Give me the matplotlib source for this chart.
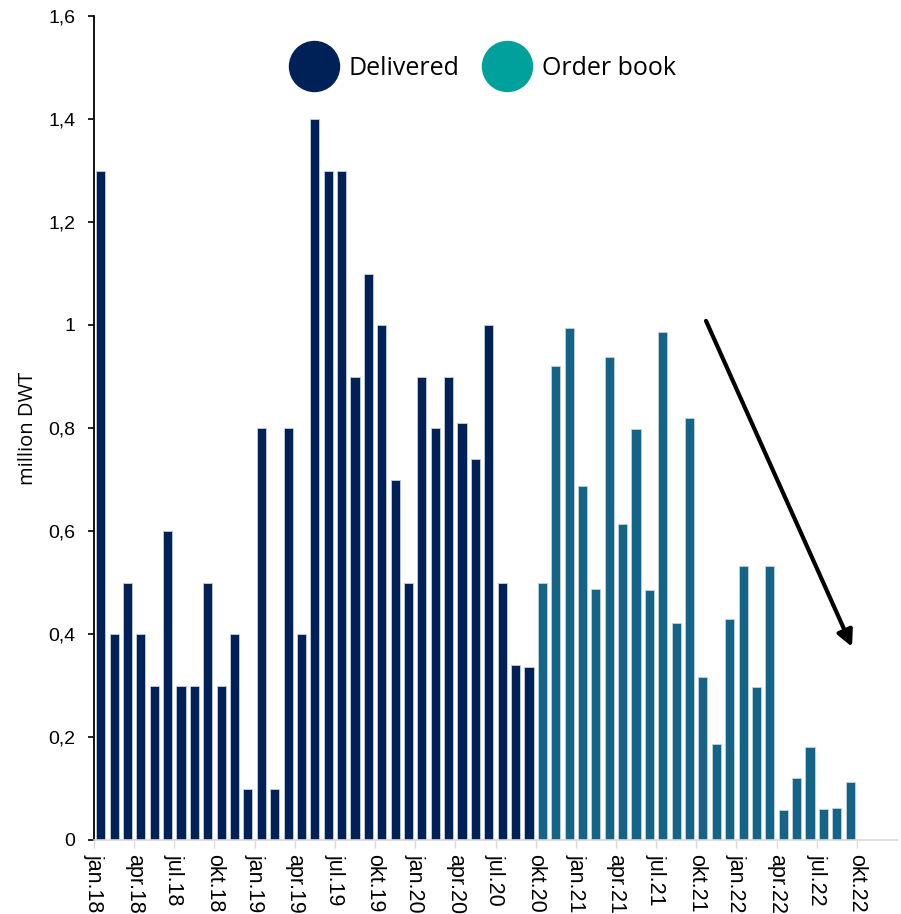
import matplotlib
matplotlib.use("Agg")
import matplotlib.pyplot as plt
import matplotlib.transforms as mtransforms
from matplotlib.lines import Line2D
from matplotlib.ticker import FuncFormatter, MultipleLocator

# Monthly deliveries, jan.18 - sep.20 (million DWT)
delivered = [1.3, 0.4, 0.5, 0.4, 0.3, 0.6, 0.3, 0.3, 0.5, 0.3, 0.4, 0.1,
             0.8, 0.1, 0.8, 0.4, 1.4, 1.3, 1.3, 0.9, 1.1, 1.0, 0.7, 0.5,
             0.9, 0.8, 0.9, 0.81, 0.74, 1.0, 0.5, 0.34, 0.335]

# Scheduled deliveries in the order book, okt.20 - sep.22 (million DWT)
order_book = [0.5, 0.921, 0.995, 0.688, 0.488, 0.937, 0.613, 0.798,
              0.485, 0.986, 0.421, 0.819, 0.316, 0.186, 0.429, 0.533,
              0.298, 0.532, 0.059, 0.120, 0.180, 0.061, 0.063, 0.113]

tick_labels = ["jan.18", "apr.18", "jul.18", "okt.18",
               "jan.19", "apr.19", "jul.19", "okt.19",
               "jan.20", "apr.20", "jul.20", "okt.20",
               "jan.21", "apr.21", "jul.21", "okt.21",
               "jan.22", "apr.22", "jul.22", "okt.22"]

series_names = ["Delivered", "Order book"]

NAVY = "#002157"
BAR_TEAL = "#136486"
LEGEND_TEAL = "#00A19C"
EDGE = "#c5cfdc"

plt.rcParams["font.family"] = ["Liberation Sans", "DejaVu Sans"]

fig = plt.figure(figsize=(9.01, 9.14), dpi=100)
ax = fig.add_axes([94 / 901, 1 - 840 / 914, 803 / 901, 824 / 914])

n_del = len(delivered)
x_del = [i + 0.5 for i in range(n_del)]
x_ord = [n_del + i + 0.5 for i in range(len(order_book))]

bar_w = 0.68
ax.bar(x_del, delivered, width=bar_w, color=NAVY, edgecolor=EDGE, linewidth=0.6)
ax.bar(x_ord, order_book, width=bar_w, color=BAR_TEAL, edgecolor=EDGE, linewidth=0.6)

# Axes limits and ticks
ax.set_xlim(0, 60)
ax.set_ylim(0, 1.6)
ax.yaxis.set_major_locator(MultipleLocator(0.2))
ax.yaxis.set_major_formatter(FuncFormatter(lambda v, p: f"{v:.1f}".rstrip("0").rstrip(".").replace(".", ",")))
ax.set_xticks([3 * i for i in range(len(tick_labels))])
ax.set_xticklabels(tick_labels, rotation=-90, ha="center", va="top")

offset = mtransforms.ScaledTranslation(3 / 100, 0, fig.dpi_scale_trans)
for lbl in ax.get_xticklabels():
    lbl.set_transform(lbl.get_transform() + offset)

ax.tick_params(axis="y", direction="out", length=4.5, width=1.2, color="black",
               labelsize=14, pad=9, colors="black")
ax.tick_params(axis="x", direction="out", length=6, width=1.0, color="#d9d9d9",
               labelsize=15.5, pad=4, labelcolor="black")

for side in ("top", "right"):
    ax.spines[side].set_visible(False)
ax.spines["left"].set_color("black")
ax.spines["left"].set_linewidth(1.3)
ax.spines["bottom"].set_color("#d9d9d9")
ax.spines["bottom"].set_linewidth(1.2)

ax.set_ylabel("million DWT", fontsize=14.5, labelpad=7,
              family=["Open Sans", "DejaVu Sans"])

# Legend with large round markers
handles = [
    Line2D([], [], linestyle="none", marker="o", markersize=36,
           markerfacecolor=NAVY, markeredgecolor=NAVY),
    Line2D([], [], linestyle="none", marker="o", markersize=36,
           markerfacecolor=LEGEND_TEAL, markeredgecolor=LEGEND_TEAL),
]
ax.legend(handles, series_names, loc="center", bbox_to_anchor=(0.483, 0.936),
          ncol=2, frameon=False, handlelength=2.1, handletextpad=0.35,
          columnspacing=0.85, prop={"family": ["Open Sans", "DejaVu Sans"], "size": 18})

# Downward trend arrow over the order book
arrow_start = (45.73, 1.008)
arrow_tip = (56.64, 0.375)
ax.annotate("", xy=arrow_tip, xytext=arrow_start,
            arrowprops=dict(arrowstyle="-|>", color="black", lw=3,
                            mutation_scale=24, shrinkA=0, shrinkB=0))

fig.savefig("out.png", dpi=100)
